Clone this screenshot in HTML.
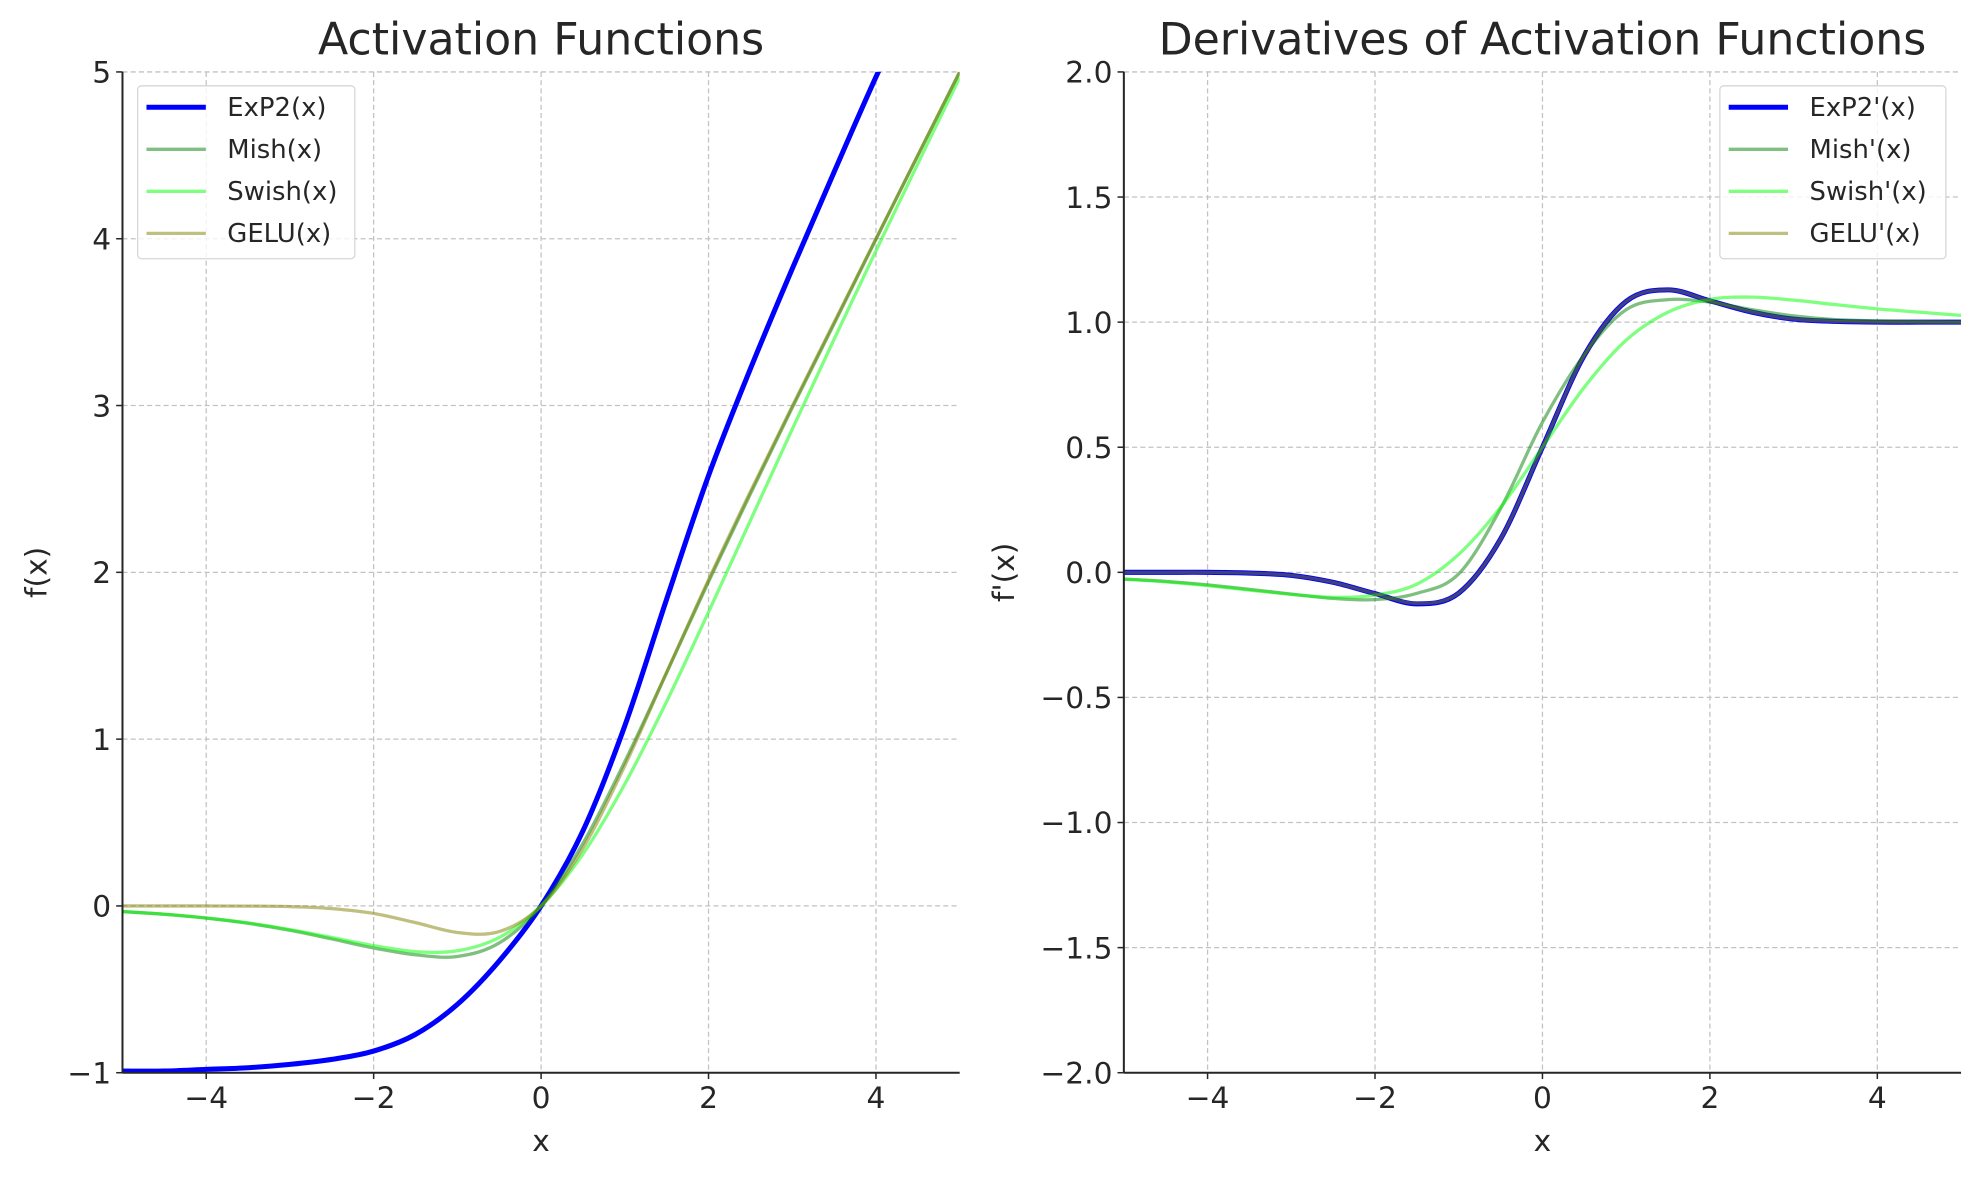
<!DOCTYPE html>
<html><head><meta charset="utf-8"><style>
html,body{margin:0;padding:0;background:#fff;}
svg{display:block;font-family:"DejaVu Sans","Liberation Sans",sans-serif;}
</style></head><body>
<svg id="fig" width="1980" height="1180" viewBox="0 0 1568 935" preserveAspectRatio="none" xmlns="http://www.w3.org/2000/svg"></svg>
<script>
const xs = [-5,-4.5,-4,-3.5,-3,-2.5,-2,-1.5,-1,-0.5,0,0.5,1,1.5,2,2.5,3,3.5,4,4.5,5];
const exp2Vals = [-0.99,-0.99,-0.98,-0.97,-0.95,-0.92,-0.87,-0.77,-0.59,-0.33,0,0.45,1.08,1.84,2.58,3.22,3.82,4.40,4.97,5.5,6.05];
const mishVals = [-0.034,-0.05,-0.073,-0.104,-0.146,-0.198,-0.252,-0.293,-0.303,-0.222,0,0.375,0.865,1.40,1.944,2.47,2.987,3.49,3.997,4.50,5.0];
const swishVals = [-0.033,-0.050,-0.072,-0.102,-0.142,-0.189,-0.238,-0.274,-0.269,-0.189,0,0.311,0.731,1.226,1.762,2.311,2.858,3.398,3.928,4.450,4.967];
const geluVals = [0,0,-0.0001,-0.001,-0.004,-0.016,-0.045,-0.100,-0.159,-0.154,0,0.346,0.841,1.400,1.955,2.484,2.996,3.499,4.0,4.5,5.0];
const exp2dVals = [0,0,0,-0.003,-0.012,-0.04,-0.085,-0.126,-0.083,0.133,0.5,0.867,1.083,1.129,1.085,1.04,1.012,1.003,1.0,1.0,1.0];
const mishdVals = [-0.027,-0.036,-0.050,-0.068,-0.087,-0.104,-0.109,-0.084,-0.006,0.255,0.6,0.87,1.05,1.09,1.08,1.05,1.025,1.01,1.005,1.002,1.0];
const swishdVals = [-0.027,-0.038,-0.053,-0.071,-0.088,-0.100,-0.091,-0.047,0.072,0.260,0.5,0.740,0.928,1.04,1.091,1.10,1.088,1.07,1.053,1.04,1.027];
const geludVals = [0,0,0,-0.003,-0.012,-0.04,-0.085,-0.124,-0.083,0.133,0.5,0.867,1.083,1.129,1.085,1.04,1.012,1.003,1.0,1.0,1.0];
const xTicks = [-4,-2,0,2,4];
const xTickLabels = ["\u22124","\u22122","0","2","4"];
const yTicksL = [-1,0,1,2,3,4,5];
const yTickLabelsL = ["\u22121","0","1","2","3","4","5"];
const yTicksR = [-2,-1.5,-1,-0.5,0,0.5,1,1.5,2];
const yTickLabelsR = ["\u22122.0","\u22121.5","\u22121.0","\u22120.5","0.0","0.5","1.0","1.5","2.0"];

const NS = "http://www.w3.org/2000/svg";
const svg = document.getElementById("fig");
function mk(tag, attrs, parent){ const e=document.createElementNS(NS,tag); for(const k in attrs) e.setAttribute(k,attrs[k]); (parent||svg).appendChild(e); return e; }
function txt(str, attrs, parent){ const e=mk("text",attrs,parent); e.textContent=str; return e; }

function smoothPath(pts){
  let d="M"+pts[0][0].toFixed(2)+","+pts[0][1].toFixed(2);
  for(let i=0;i<pts.length-1;i++){
    const p0=pts[Math.max(i-1,0)],p1=pts[i],p2=pts[i+1],p3=pts[Math.min(i+2,pts.length-1)];
    const c1=[p1[0]+(p2[0]-p0[0])/6,p1[1]+(p2[1]-p0[1])/6];
    const c2=[p2[0]-(p3[0]-p1[0])/6,p2[1]-(p3[1]-p1[1])/6];
    d+=" C"+c1[0].toFixed(2)+","+c1[1].toFixed(2)+" "+c2[0].toFixed(2)+","+c2[1].toFixed(2)+" "+p2[0].toFixed(2)+","+p2[1].toFixed(2);
  }
  return d;
}

function panel(cfg){
  const g=mk("g",{});
  
  
  const X=v=>cfg.x0+(v-cfg.xmin)/(cfg.xmax-cfg.xmin)*(cfg.x1-cfg.x0);
  const Y=v=>cfg.y1-(v-cfg.ymin)/(cfg.ymax-cfg.ymin)*(cfg.y1-cfg.y0);
  const clipId="clip-"+cfg.name;
  const cp=mk("clipPath",{id:clipId},g);
  mk("rect",{x:cfg.x0,y:cfg.y0,width:cfg.x1-cfg.x0,height:cfg.y1-cfg.y0},cp);
  xTicks.forEach(v=>{ const l=mk("line",{x1:X(v),x2:X(v),y1:cfg.y0,y2:cfg.y1,stroke:"#c2c2c2","stroke-width":1,"stroke-dasharray":"4,2.5"},g);
      });
  cfg.yTicks.forEach(v=>{ const l=mk("line",{x1:cfg.x0,x2:cfg.x1,y1:Y(v),y2:Y(v),stroke:"#c2c2c2","stroke-width":1,"stroke-dasharray":"4,2.5"},g);
      });
  const sg=mk("g",{"clip-path":"url(#"+clipId+")"},g);
  cfg.series.forEach(s=>{
    const pts=xs.map((x,i)=>[X(x),Y(s.vals[i])]);
    const p=mk("path",{d:smoothPath(pts),fill:"none",stroke:s.color,"stroke-width":s.w,"stroke-opacity":s.op,"stroke-linejoin":"round","stroke-linecap":"butt"},sg);
    
    
  });
  mk("line",{x1:cfg.x0,x2:cfg.x0,y1:cfg.y0,y2:cfg.y1,stroke:"#262626","stroke-width":1.6},g);
  mk("line",{x1:cfg.x0,x2:cfg.x1,y1:cfg.y1,y2:cfg.y1,stroke:"#262626","stroke-width":1.6},g);
  xTicks.forEach((v,i)=>{
    mk("line",{x1:X(v),x2:X(v),y1:cfg.y1,y2:cfg.y1+5,stroke:"#262626","stroke-width":1.2},g);
    const t=txt(xTickLabels[i],{x:X(v),y:cfg.y1+28,"text-anchor":"middle","font-size":23.5,fill:"#262626"},g);
     
  });
  cfg.yTicks.forEach((v,i)=>{
    mk("line",{x1:cfg.x0-5,x2:cfg.x0,y1:Y(v),y2:Y(v),stroke:"#262626","stroke-width":1.2},g);
    const t=txt(cfg.yLabels[i],{x:cfg.x0-9,y:Y(v)+8.5,"text-anchor":"end","font-size":23.5,fill:"#262626"},g);
     
  });
  const tt=txt(cfg.title,{x:(cfg.x0+cfg.x1)/2,y:43,"text-anchor":"middle","font-size":35,fill:"#262626"},g);
   
  const xl=txt("x",{x:(cfg.x0+cfg.x1)/2,y:912,"text-anchor":"middle","font-size":23.5,fill:"#262626"},g);
   
  const yl=txt(cfg.ylabel,{x:0,y:0,"text-anchor":"middle","font-size":23.5,fill:"#262626",transform:"translate("+cfg.ylx+","+((cfg.y0+cfg.y1)/2)+") rotate(-90)"},g);
   
  const lg=mk("g",{},g);
   
  mk("rect",{x:cfg.lx,y:68,width:cfg.lw,height:137,rx:3,fill:"#fff","fill-opacity":0.8,stroke:"#d6d6d6","stroke-width":1},lg);
  cfg.series.forEach((s,i)=>{
    const yy=85+i*33.3;
    const e=mk("g",{},lg);
     
    mk("line",{x1:cfg.lx+7,x2:cfg.lx+54,y1:yy,y2:yy,stroke:s.color,"stroke-width":s.w,"stroke-opacity":s.op},e);
    txt(s.label,{x:cfg.lx+71,y:yy+7,"font-size":20.5,fill:"#262626"},e);
  });
}

panel({name:"activation-functions-panel",x0:97,x1:760,y0:57,y1:850,xmin:-5,xmax:5,ymin:-1,ymax:5,
  yTicks:yTicksL,yLabels:yTickLabelsL,title:"Activation Functions",ylabel:"f(x)",ylx:37,lx:109,lw:172,
  series:[{id:"exp2",label:"ExP2(x)",vals:exp2Vals,color:"#0000ff",w:4,op:1},
          {id:"mish",label:"Mish(x)",vals:mishVals,color:"#008000",w:2.6,op:0.5},
          {id:"swish",label:"Swish(x)",vals:swishVals,color:"#00ff00",w:2.6,op:0.5},
          {id:"gelu",label:"GELU(x)",vals:geluVals,color:"#808000",w:2.6,op:0.5}]});
panel({name:"derivatives-panel",x0:890,x1:1553,y0:57,y1:850,xmin:-5,xmax:5,ymin:-2,ymax:2,
  yTicks:yTicksR,yLabels:yTickLabelsR,title:"Derivatives of Activation Functions",ylabel:"f'(x)",ylx:803,lx:1362,lw:179,
  series:[{id:"exp2-derivative",label:"ExP2'(x)",vals:exp2dVals,color:"#0000ff",w:4,op:1},
          {id:"mish-derivative",label:"Mish'(x)",vals:mishdVals,color:"#008000",w:2.6,op:0.5},
          {id:"swish-derivative",label:"Swish'(x)",vals:swishdVals,color:"#00ff00",w:2.6,op:0.5},
          {id:"gelu-derivative",label:"GELU'(x)",vals:geludVals,color:"#808000",w:2.6,op:0.5}]});
</script>
</body></html>
